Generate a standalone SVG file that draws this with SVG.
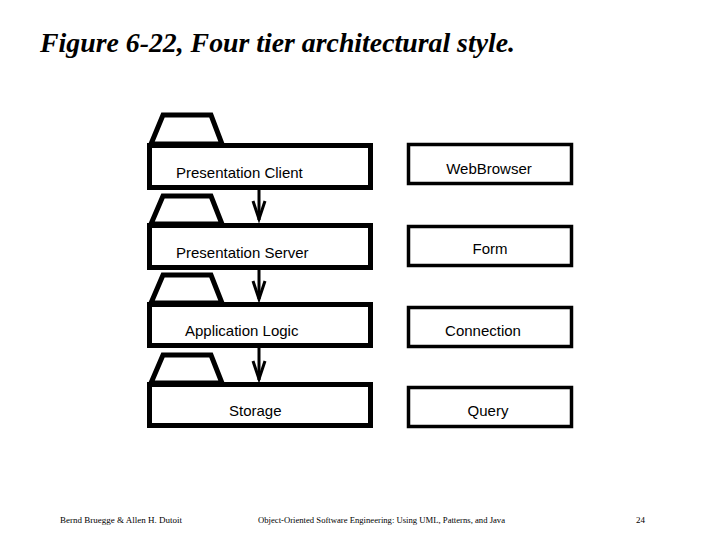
<svg xmlns="http://www.w3.org/2000/svg" width="720" height="540" viewBox="0 0 720 540">
<defs>
<style>
.tab{fill:#fff;stroke:#000;stroke-width:5;stroke-linejoin:miter}
.box{fill:#fff;stroke:#000;stroke-width:5}
.rbox{fill:#fff;stroke:#000;stroke-width:3.5}
.lbl{font-family:"Liberation Sans",Arial,sans-serif;font-size:15px;fill:#000}
.conn{stroke:#000;stroke-width:3;fill:none}
.foot{font-family:"Liberation Serif","Times New Roman",serif;font-size:9px;fill:#000}
</style>
</defs>
<rect width="720" height="540" fill="#fff"/>
<text x="40" y="52" font-family="'Liberation Serif','Times New Roman',serif" font-style="italic" font-weight="bold" font-size="27" textLength="475" lengthAdjust="spacingAndGlyphs">Figure 6-22, Four tier architectural style.</text>

<g id="presentation-client">
<polygon class="tab" points="163,115 211,115 222,144 151,144"/>
<rect class="box" x="149.5" y="145.5" width="221" height="42"/>
<text class="lbl" x="176" y="178">Presentation Client</text>
</g>
<g id="presentation-server">
<polygon class="tab" points="163,196 211,196 222,224 151,224"/>
<rect class="box" x="149.5" y="225.5" width="221" height="42"/>
<text class="lbl" x="176" y="258">Presentation Server</text>
</g>
<g id="application-logic">
<polygon class="tab" points="163,275 211,275 222,303 151,303"/>
<rect class="box" x="149.5" y="304.5" width="221" height="41"/>
<text class="lbl" x="185" y="336">Application Logic</text>
</g>
<g id="storage">
<polygon class="tab" points="163,355 211,355 222,383 151,383"/>
<rect class="box" x="149.5" y="384.5" width="221" height="41"/>
<text class="lbl" x="229" y="416">Storage</text>
</g>

<g id="webbrowser">
<rect class="rbox" x="408.5" y="144.5" width="163" height="39"/>
<text class="lbl" x="489" y="174" text-anchor="middle">WebBrowser</text>
</g>
<g id="form">
<rect class="rbox" x="408.5" y="226.5" width="163" height="39"/>
<text class="lbl" x="490" y="254" text-anchor="middle">Form</text>
</g>
<g id="connection">
<rect class="rbox" x="408.5" y="307.5" width="163" height="39"/>
<text class="lbl" x="483" y="336" text-anchor="middle">Connection</text>
</g>
<g id="query">
<rect class="rbox" x="408.5" y="387.5" width="163" height="39"/>
<text class="lbl" x="488" y="416" text-anchor="middle">Query</text>
</g>

<g id="connectors">
<line class="conn" x1="259" y1="190" x2="259" y2="220"/>
<polyline class="conn" points="253,201 259,219 265,201"/>
<line class="conn" x1="259" y1="270" x2="259" y2="299"/>
<polyline class="conn" points="253,281 259,299 265,281"/>
<line class="conn" x1="259" y1="348" x2="259" y2="380"/>
<polyline class="conn" points="253,361 259,379 265,361"/>
</g>

<text class="foot" x="60" y="523">Bernd Bruegge &amp; Allen H. Dutoit</text>
<text class="foot" x="258" y="523" textLength="247" lengthAdjust="spacingAndGlyphs">Object-Oriented Software Engineering: Using UML, Patterns, and Java</text>
<text class="foot" x="636" y="523">24</text>
</svg>
